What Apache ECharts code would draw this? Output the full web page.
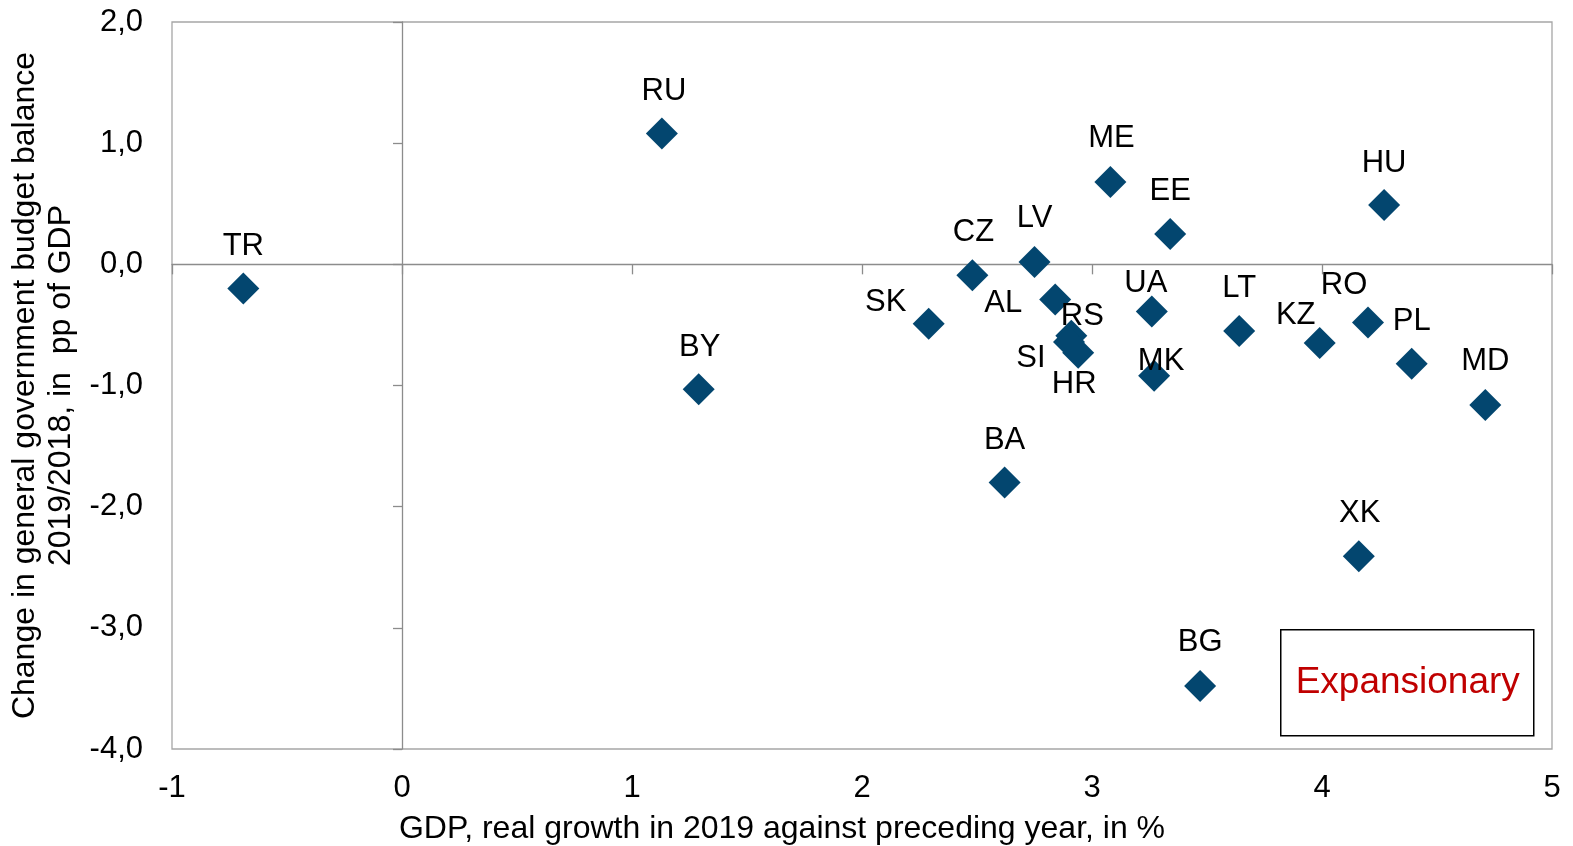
<!DOCTYPE html>
<html>
<head>
<meta charset="utf-8">
<script src="https://cdn.jsdelivr.net/npm/echarts@6/dist/echarts.min.js"></script>
<style>
html,body{margin:0;padding:0;background:#fff;}
#chart{width:1573px;height:846px;}
</style>
</head>
<body>
<div id="chart"></div>
<script>
// ---- data ----
var countries = ['TR','RU','BY','CZ','LV','AL','SK','RS','SI','HR','UA','MK','EE','ME','LT','KZ','RO','PL','MD','HU','BA','XK','BG'];
var gdpGrowth = [-0.69, 1.13, 1.29, 2.48, 2.75, 2.84, 2.29, 2.91, 2.90, 2.94, 3.26, 3.27, 3.34, 3.08, 3.64, 3.99, 4.20, 4.39, 4.71, 4.27, 2.62, 4.16, 3.47];
var balanceChange = [-0.20, 1.08, -1.03, -0.09, 0.02, -0.29, -0.49, -0.59, -0.64, -0.73, -0.39, -0.92, 0.25, 0.68, -0.55, -0.65, -0.48, -0.82, -1.16, 0.49, -1.80, -2.41, -3.48];
var xTicks = [-1, 0, 1, 2, 3, 4, 5];
var yTicks = [-4, -3, -2, -1, 0, 1, 2];

// ---- label layout (pixel offsets of each label from its marker) ----
var labelOffsets = {
  TR:[0,-42], RU:[2,-42], BY:[1,-42], CZ:[1,-43], LV:[0,-43], AL:[-52,4], SK:[-43,-21],
  RS:[11,-19], SI:[-38,17], HR:[-4,32], UA:[-6,-28], MK:[7,-14], EE:[0,-43], ME:[1,-43],
  LT:[0,-43], KZ:[-24,-28], RO:[-24,-37], PL:[0,-42], MD:[0,-43], HU:[0,-42], BA:[0,-42],
  XK:[1,-43], BG:[0,-44]
};

var FONT = 'Liberation Sans, Arial, sans-serif';
var pointData = countries.map(function (c, i) {
  return { name: c, value: [gdpGrowth[i], balanceChange[i]] };
});

var chart = echarts.init(document.getElementById('chart'), null, { renderer: 'canvas' });
var xMin = xTicks[0], xMax = xTicks[xTicks.length - 1];
var yMin = yTicks[0], yMax = yTicks[yTicks.length - 1];

chart.setOption({
  animation: false,
  backgroundColor: '#ffffff',
  textStyle: { fontFamily: FONT },
  grid: {
    left: 172, top: 22, right: 21, bottom: 97,
    containLabel: false, outerBoundsMode: 'none',
    show: true, borderColor: '#a6a6a6', borderWidth: 1.3, backgroundColor: 'transparent'
  },
  xAxis: [{
    type: 'value', min: xMin, max: xMax, interval: 1,
    position: 'bottom',
    axisLine: { show: false, onZero: false },
    axisTick: { show: false },
    splitLine: { show: false },
    axisLabel: { color: '#000', fontSize: 31, fontFamily: FONT, margin: 21, lineHeight: 36 },
    name: 'GDP, real growth in 2019 against preceding year, in %',
    nameLocation: 'middle', nameGap: 62,
    nameTextStyle: { color: '#000', fontSize: 32, fontFamily: FONT, lineHeight: 36, padding: [0, 160, 0, 0] }
  }, {
    type: 'value', min: xMin, max: xMax, interval: 1,
    position: 'bottom',
    axisLine: { show: true, onZero: true, onZeroAxisIndex: 0, lineStyle: { color: '#8c8c8c', width: 1.3 } },
    axisTick: { show: true, length: 10, lineStyle: { color: '#8c8c8c', width: 1.3 } },
    axisLabel: { show: false },
    splitLine: { show: false }
  }],
  yAxis: [{
    type: 'value', min: yMin, max: yMax, interval: 1,
    position: 'left',
    axisLine: { show: false, onZero: false },
    axisTick: { show: false },
    splitLine: { show: false },
    axisLabel: {
      color: '#000', fontSize: 31, fontFamily: FONT, margin: 29,
      formatter: function (v) { return v.toFixed(1).replace('.', ','); }
    },
    name: 'Change in general government budget balance\n2019/2018, in  pp of GDP',
    nameLocation: 'middle', nameRotate: 90, nameGap: 85,
    nameTextStyle: { color: '#000', fontSize: 32, fontFamily: FONT, lineHeight: 36, align: 'center' }
  }, {
    type: 'value', min: yMin, max: yMax, interval: 1,
    position: 'left',
    axisLine: { show: true, onZero: true, onZeroAxisIndex: 0, lineStyle: { color: '#8c8c8c', width: 1.3 } },
    axisTick: { show: true, length: 9, lineStyle: { color: '#8c8c8c', width: 1.3 } },
    axisLabel: { show: false },
    splitLine: { show: false }
  }],
  series: [{
    type: 'scatter',
    xAxisIndex: 0, yAxisIndex: 0,
    symbol: 'diamond',
    symbolSize: 32,
    itemStyle: { color: '#03466f', opacity: 1 },
    label: {
      show: true, position: 'inside',
      formatter: '{b}', color: '#000', fontSize: 31, fontFamily: FONT
    },
    labelLayout: function (params) {
      var off = labelOffsets[countries[params.dataIndex]] || [0, -42];
      return { dx: off[0], dy: off[1], hideOverlap: false };
    },
    emphasis: { disabled: true },
    data: pointData,
    z: 5
  }],
  graphic: [{
    type: 'group', left: 1280, top: 629,
    children: [{
      type: 'rect', shape: { x: 0, y: 0, width: 253, height: 106 },
      style: { fill: '#fff', stroke: '#000', lineWidth: 1.5 }
    }, {
      type: 'text', x: 127, y: 53,
      style: { text: 'Expansionary', fill: '#c00000', font: '37px ' + FONT, align: 'center', verticalAlign: 'middle' }
    }]
  }]
});
</script>
</body>
</html>
